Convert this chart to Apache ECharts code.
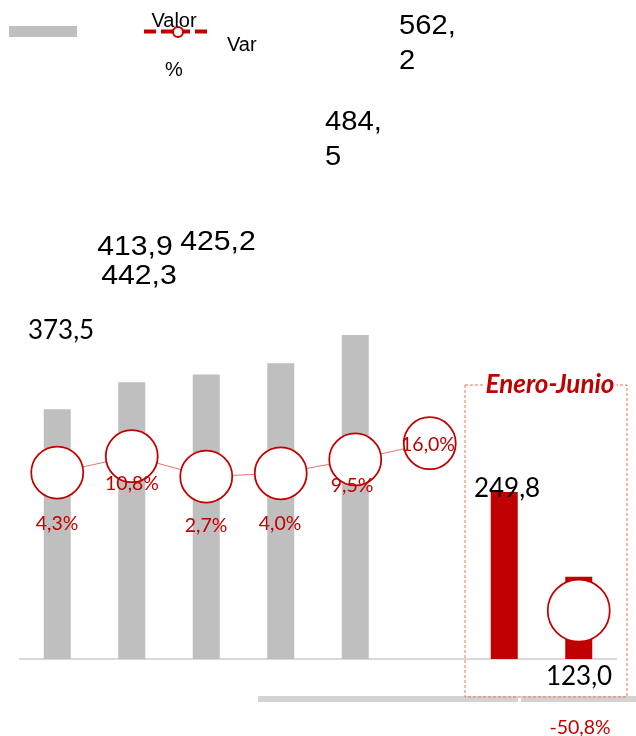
<!DOCTYPE html>
<html><head><meta charset="utf-8">
<script src="https://cdn.jsdelivr.net/npm/echarts@6/dist/echarts.min.js"></script>
<style>html,body{margin:0;padding:0;background:#fff}#c{width:636px;height:736px}</style>
</head><body><div id="c"></div>
<script>
// ---- data ----
const categories = ['P1','P2','P3','P4','P5','P6','EJ-1','EJ-2'];
const barValues = [373.5, 413.9, 425.2, 442.3, 484.5, 562.2, 249.8, 123.0];
const barShown  = [true, true, true, true, true, false, true, true];
const barPeriod = [false, false, false, false, false, false, true, true];
const varValues = [4.3, 10.8, 2.7, 4.0, 9.5, 16.0, null, -50.8];
const legendBar = 'Valor';
const legendLine = ['Var', '%'];
const periodTitle = 'Enero-Junio';

// ---- layout (label positions, not data) ----
const valueLabelPos = [[61,331,'cal'],[135,248,'c'],[218,243,'c'],[139,277,'c'],[325,140,'wrap'],[399,44,'wrap'],[507,489,'cal'],[579,677,'cal']];
const varLabelPos = [[57,524],[132,484],[206,526],[280,524],[352,486],[428,445],null,[580,728]];

const fmt = v => v.toFixed(1).replace('.', ',');
const RED = '#C00000', GREY = '#BFBFBF';
const ARIAL = '"Liberation Sans", Arial, sans-serif';
const CAL = 'Lato, "Open Sans", sans-serif';

const graphics = [];
// legend
graphics.push({type:'rect', shape:{x:9,y:26,width:68,height:11}, style:{fill:GREY}, z:100});
graphics.push({type:'line', shape:{x1:144,y1:31.5,x2:212,y2:31.5}, style:{stroke:RED,lineWidth:4,lineDash:[12,5]}, z:100});
graphics.push({type:'circle', shape:{cx:178,cy:32,r:5}, style:{fill:'#fff',stroke:RED,lineWidth:2}, z:101});
graphics.push({type:'text', x:174, y:21, style:{text:legendBar, font:'20px '+ARIAL, fill:'#000', align:'center', verticalAlign:'middle'}, z:102});
graphics.push({type:'text', x:227, y:45, style:{text:legendLine[0], font:'20px '+ARIAL, fill:'#000', align:'left', verticalAlign:'middle'}, z:102});
graphics.push({type:'text', x:174, y:70, style:{text:legendLine[1], font:'20px '+ARIAL, fill:'#000', align:'center', verticalAlign:'middle'}, z:102});
// lower grey axis band
graphics.push({type:'rect', shape:{x:258,y:696,width:260,height:6}, style:{fill:'#D3D3D3'}, z:1});
graphics.push({type:'rect', shape:{x:521,y:696,width:115,height:6}, style:{fill:'#D3D3D3'}, z:1});
// dashed period box
graphics.push({type:'rect', shape:{x:465,y:385,width:162,height:312}, style:{fill:'none',stroke:'#E8764F',lineWidth:1,lineDash:[3,2]}, z:5});
graphics.push({type:'text', x:550, y:385, style:{text:periodTitle, font:'italic bold 26px '+CAL, fill:RED, align:'center', verticalAlign:'middle', backgroundColor:'#fff', padding:[0,2]}, z:102});

// value labels
barValues.forEach((v,i) => {
  const p = valueLabelPos[i];
  const txt = fmt(v);
  if (p[2] === 'wrap') {
    const s = txt.split(',');
    graphics.push({type:'text', x:p[0], y:p[1], scaleX:1.08, style:{text:s[0]+',\n'+s[1], font:'27px '+ARIAL, lineHeight:35, fill:'#000', align:'left', verticalAlign:'middle'}, z:102});
  } else if (p[2] === 'cal') {
    graphics.push({type:'text', x:p[0], y:p[1], style:{text:txt, font:'26px '+CAL, fill:'#000', align:'center', verticalAlign:'middle'}, z:102});
  } else {
    graphics.push({type:'text', x:p[0], y:p[1], scaleX:1.12, style:{text:txt, font:'27px '+ARIAL, fill:'#000', align:'center', verticalAlign:'middle'}, z:102});
  }
});
// var labels
varValues.forEach((v,i) => {
  const p = varLabelPos[i];
  if (v === null || !p) return;
  graphics.push({type:'text', x:p[0], y:p[1], style:{text:fmt(v)+'%', font:'19.5px '+CAL, fill:RED, align:'center', verticalAlign:'middle'}, z:102});
});

const chart = echarts.init(document.getElementById('c'), null, {renderer:'canvas'});
chart.setOption({
  animation:false,
  backgroundColor:'#fff',
  grid:{left:20, right:20, top:57, bottom:77},
  xAxis:{type:'category', data:categories, boundaryGap:true,
    axisLine:{show:true, lineStyle:{color:'#D9D9D9', width:2}},
    axisTick:{show:false}, axisLabel:{show:false}, splitLine:{show:false}},
  yAxis:[
    {type:'value', min:0, max:900, show:false, splitLine:{show:false}},
    {type:'value', min:-70.08, max:170.04, show:false, splitLine:{show:false}}
  ],
  series:[
    {type:'bar', yAxisIndex:0, barWidth:27,
     data: barValues.map((v,i) => barShown[i] ? {value:v, itemStyle:{color: barPeriod[i] ? RED : GREY}} : '-'),
     z:2},
    {type:'line', yAxisIndex:1, connectNulls:false, symbol:'circle',
     showSymbol:true, showAllSymbol:true, symbolSize:52,
     data: varValues.map((v,i) => v === null ? '-' : (i === 7 ? {value:v, symbolSize:62} : {value:v})),
     lineStyle:{color:'#E57373', width:1},
     itemStyle:{color:'#fff', borderColor:RED, borderWidth:1.75, opacity:1},
     z:3}
  ],
  graphic: graphics
});
</script></body></html>
